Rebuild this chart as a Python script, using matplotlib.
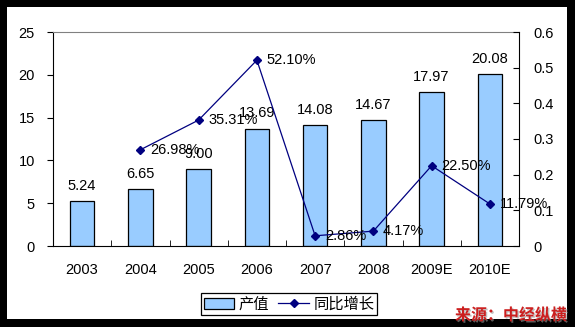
import matplotlib.pyplot as plt
import matplotlib.patheffects as pe
from matplotlib.patches import Rectangle, Patch
from matplotlib.lines import Line2D

years = ["2003", "2004", "2005", "2006", "2007", "2008", "2009E", "2010E"]
output = [5.24, 6.65, 9.00, 13.69, 14.08, 14.67, 17.97, 20.08]
growth_years = [1, 2, 3, 4, 5, 6, 7]
growth = [0.2698, 0.3531, 0.5210, 0.0286, 0.0417, 0.2250, 0.1179]
growth_labels = ["26.98%", "35.31%", "52.10%", "2.86%", "4.17%", "22.50%", "11.79%"]

plt.rcParams['font.family'] = ['Liberation Sans', 'Noto Sans CJK SC', 'DejaVu Sans']
fs = 10.5

fig = plt.figure(figsize=(5.75, 3.27), dpi=100, facecolor="black")
W, H = 575, 327
# white inner area, black frame around it
fig.patches.append(Rectangle((7 / W, 1 - 319 / H), 560 / W, 312 / H,
                             transform=fig.transFigure, facecolor="white",
                             edgecolor="none", zorder=-10))

ax = fig.add_axes([53 / W, 1 - 246 / H, 466 / W, 214 / H])
ax.set_facecolor("none")
x = range(len(years))
bars = ax.bar(x, output, width=0.42, color="#99CCFF", edgecolor="black", linewidth=0.9)
ax.set_xlim(-0.5, 7.5)
ax.set_ylim(0, 25)
ax.set_yticks([0, 5, 10, 15, 20, 25])
ax.set_xticks(list(x))
ax.set_xticklabels(years)
ax.set_xticks([i + 0.5 for i in range(7)], minor=True)
ax.tick_params(axis="x", which="major", length=0, pad=12, labelsize=fs)
ax.tick_params(axis="x", which="minor", direction="in", length=4)
ax.tick_params(axis="y", direction="out", length=4, pad=9, labelsize=fs)
ax.spines["top"].set_color("#808080")
ax.spines["right"].set_visible(False)
for b, v in zip(bars, output):
    ax.annotate(f"{v:.2f}", (b.get_x() + b.get_width() / 2, v), xytext=(0, 6),
                textcoords="offset points", ha="center", va="bottom", fontsize=fs)

ax2 = ax.twinx()
ax2.plot(growth_years, growth, color="#000080", linewidth=0.9, marker="D",
         markersize=4.5, markerfacecolor="#000080", markeredgecolor="#000080")
ax2.set_ylim(0, 0.6)
ax2.set_yticks([0, 0.1, 0.2, 0.3, 0.4, 0.5, 0.6])
ax2.set_yticklabels(["0", "0.1", "0.2", "0.3", "0.4", "0.5", "0.6"])
ax2.tick_params(axis="y", direction="in", length=4, pad=10, labelsize=fs)
ax2.spines["top"].set_visible(False)
ax2.spines["left"].set_visible(False)
ax2.spines["bottom"].set_visible(False)
for xi, v, lab in zip(growth_years, growth, growth_labels):
    ax2.annotate(lab, (xi, v), xytext=(7, 0), textcoords="offset points",
                 ha="left", va="center", fontsize=fs)

handles = [Patch(facecolor="#99CCFF", edgecolor="black", linewidth=0.9),
           Line2D([], [], color="#000080", marker="D", markersize=4.5, linewidth=0.9)]
leg = fig.legend(handles, ["产值", "同比增长"], loc="center",
                 bbox_to_anchor=(289 / W, 1 - 304 / H), ncol=2, frameon=True,
                 fancybox=False, edgecolor="black", framealpha=1,
                 prop={"family": ["Noto Sans CJK SC"], "size": 11},
                 handlelength=2.0, handleheight=0.7, handletextpad=0.3,
                 columnspacing=0.6, borderpad=0.15, borderaxespad=0)
leg.get_frame().set_linewidth(0.9)

fig.text(511 / W, 1 - 315 / H, "来源：中经纵横", ha="center", va="center",
         color="#CC1F1F", fontsize=11.5, fontweight="bold",
         family=["Noto Sans CJK SC"],
         path_effects=[pe.SimplePatchShadow(offset=(1, -1), shadow_rgbFace="#999999", alpha=0.6),
                       pe.Normal()])

fig.savefig("out.png", dpi=100, facecolor="black")
